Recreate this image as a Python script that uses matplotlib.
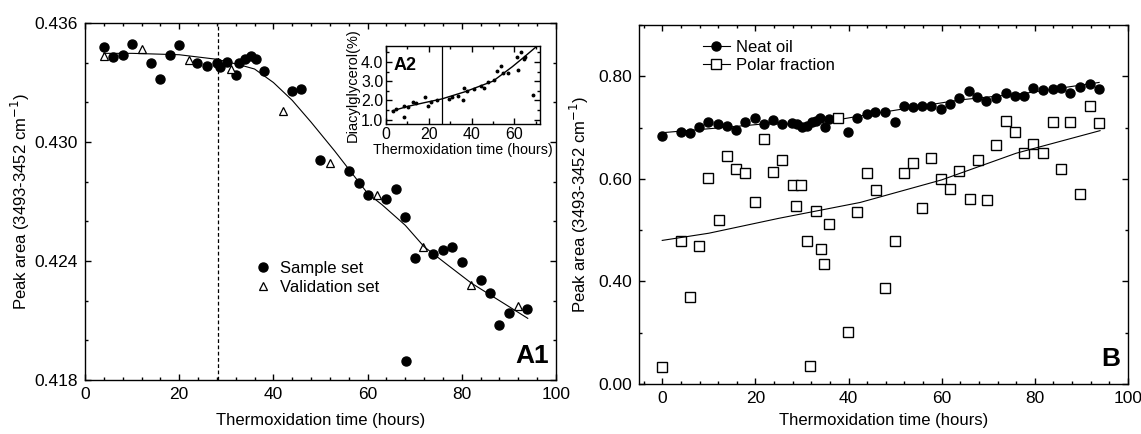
import matplotlib.pyplot as plt
from matplotlib.ticker import MultipleLocator, FixedLocator

plt.rcParams['font.family'] = ['Liberation Sans', 'DejaVu Sans']

# ---- panel A1: peak area vs time ----
sample_t = [4.0, 6.0, 8.0, 10.0, 14.1, 16.0, 18.0, 19.9, 23.8, 26.0, 28.0, 28.7, 30.1, 32.0, 32.8,
            34.0, 35.2, 36.2, 38.0, 44.0, 45.9, 49.9, 56.0, 58.1, 60.0, 63.9, 66.0, 67.9, 68.1,
            70.0, 73.9, 76.0, 77.9, 80.0, 84.1, 86.0, 88.0, 90.0, 93.8]
sample_y = [0.43478, 0.43427, 0.43437, 0.43496, 0.43397, 0.43316, 0.43437, 0.43489, 0.43397,
            0.43383, 0.43400, 0.43380, 0.43405, 0.43338, 0.43397, 0.43417, 0.43434, 0.43417,
            0.43358, 0.43259, 0.43266, 0.42909, 0.42854, 0.42792, 0.42733, 0.42711, 0.42762,
            0.42623, 0.41897, 0.42414, 0.42434, 0.42455, 0.42472, 0.42395, 0.42304, 0.42237,
            0.42079, 0.42136, 0.42158]
valid_t = [4.0, 12.0, 22.0, 30.9, 42.0, 52.0, 62.1, 71.8, 82.0, 92.0]
valid_y = [0.43434, 0.43470, 0.43413, 0.43366, 0.43158, 0.42893, 0.42733, 0.42469, 0.42279, 0.42173]
fitA_t = [4, 10, 20, 28, 33, 36, 40, 44, 48, 53, 60, 63, 68, 72, 77, 82, 88, 94]
fitA_y = [0.43447, 0.43447, 0.43440, 0.43417, 0.43388, 0.43368, 0.43300, 0.43210, 0.43100,
          0.42955, 0.42741, 0.42685, 0.42580, 0.42472, 0.42380, 0.42289, 0.42200, 0.42111]
split_A = 28.3
a_ticks = [0.418, 0.424, 0.430, 0.436]

# ---- inset A2: diacylglycerol ----
dag_t = [3.1, 4.9, 8.3, 8.3, 10.3, 12.6, 14.1, 18.0, 19.5, 21.0, 24.0, 29.5, 31.0, 33.5, 36.1,
         36.4, 38.0, 41.0, 44.5, 45.6, 47.9, 50.5, 51.8, 53.8, 54.8, 57.0, 61.0, 61.8, 63.0,
         64.5, 65.1, 68.7]
dag_v = [1.44, 1.53, 1.14, 1.70, 1.63, 1.93, 1.84, 2.16, 1.70, 1.93, 2.00, 2.05, 2.19, 2.25, 2.02,
         2.63, 2.51, 2.58, 2.75, 2.66, 2.98, 3.07, 3.54, 3.77, 3.42, 3.45, 4.26, 3.59, 4.50,
         4.16, 4.26, 2.28]
dag_fit_t = [3, 10, 18, 26, 37, 50, 59, 65, 71]
dag_fit_v = [1.45, 1.68, 1.88, 2.07, 2.45, 3.00, 3.75, 4.30, 4.87]
split_A2 = 26

# ---- panel B ----
neat_t = [0, 4.0, 6.0, 7.9, 9.8, 12.0, 13.9, 15.8, 17.8, 20.0, 21.9, 23.8, 25.7, 27.8, 28.9,
          30.0, 31.0, 32.1, 33.0, 33.9, 35.0, 35.9, 39.8, 41.9, 43.9, 45.7, 47.9, 49.9, 51.9,
          53.9, 55.8, 57.8, 59.9, 61.8, 63.7, 65.8, 67.6, 69.6, 71.7, 73.8, 75.8, 77.7, 79.6,
          81.7, 83.8, 85.7, 87.6, 89.8, 91.8, 93.8]
neat_y = [0.684, 0.692, 0.690, 0.701, 0.710, 0.707, 0.703, 0.696, 0.710, 0.718, 0.706, 0.715,
          0.706, 0.709, 0.707, 0.702, 0.703, 0.710, 0.712, 0.718, 0.701, 0.716, 0.692, 0.718,
          0.727, 0.731, 0.730, 0.710, 0.742, 0.741, 0.742, 0.742, 0.736, 0.746, 0.757, 0.772,
          0.759, 0.751, 0.757, 0.768, 0.761, 0.761, 0.777, 0.774, 0.775, 0.777, 0.768, 0.780,
          0.785, 0.775]
neat_fit_t = [0, 11.7, 21.7, 32.4, 45.3, 64, 78, 93.8]
neat_fit_y = [0.690, 0.699, 0.707, 0.707, 0.727, 0.754, 0.767, 0.788]
polar_t = [0, 4.0, 6.0, 7.9, 9.8, 12.1, 13.9, 15.8, 17.8, 20.0, 21.9, 23.8, 25.7, 28.0, 28.8,
           29.8, 31.0, 31.8, 33.0, 34.0, 34.8, 35.9, 37.8, 39.8, 41.9, 43.9, 45.8, 47.9, 49.9,
           51.9, 53.8, 55.7, 57.8, 59.9, 61.7, 63.8, 66.0, 67.9, 69.7, 71.7, 73.8, 75.8, 77.7,
           79.7, 81.7, 83.8, 85.6, 87.6, 89.7, 91.8, 93.7]
polar_y = [0.234, 0.478, 0.369, 0.469, 0.601, 0.520, 0.645, 0.619, 0.612, 0.554, 0.677, 0.614,
           0.637, 0.588, 0.547, 0.588, 0.479, 0.236, 0.538, 0.463, 0.434, 0.512, 0.718, 0.302,
           0.535, 0.612, 0.579, 0.387, 0.479, 0.612, 0.630, 0.543, 0.640, 0.599, 0.580, 0.616,
           0.561, 0.637, 0.558, 0.666, 0.712, 0.692, 0.651, 0.668, 0.651, 0.710, 0.619, 0.710,
           0.570, 0.742, 0.709]
polar_fit_t = [0, 10, 25, 42.5, 60, 76, 94]
polar_fit_y = [0.480, 0.494, 0.523, 0.554, 0.598, 0.650, 0.694]
b_ticks = [0.2, 0.4, 0.6, 0.8]
b_labels = ["0.00", "0.40", "0.60", "0.80"]

xlabel = "Thermoxidation time (hours)"
ylabel = "Peak area (3493-3452 cm$^{-1}$)"


def style(ax, size=12.5):
    for s in ax.spines.values():
        s.set_linewidth(1.0)
    ax.tick_params(direction='in', top=True, right=True, which='both', labelsize=size, width=1.0)
    ax.tick_params(which='major', length=4, pad=5)
    ax.tick_params(which='minor', length=2)


fig = plt.figure(figsize=(11.41, 4.34), dpi=100)

# A1
ax1 = fig.add_axes([0.0745, 0.1244, 0.4128, 0.8226])
ax1.plot(sample_t, sample_y, 'o', color='black', ms=6.5, label='Sample set')
ax1.plot(valid_t, valid_y, '^', mfc='white', mec='black', mew=0.9, ms=6, label='Validation set')
ax1.plot(fitA_t, fitA_y, '-', color='black', lw=0.8)
ax1.axvline(split_A, color='black', ls=(0, (3, 2)), lw=0.9)
ax1.set_xlim(0, 100)
ax1.set_ylim(0.418, 0.436)
ax1.yaxis.set_major_locator(FixedLocator(a_ticks))
ax1.yaxis.set_major_formatter('{x:.3f}')
ax1.yaxis.set_minor_locator(MultipleLocator(0.002))
ax1.xaxis.set_major_locator(MultipleLocator(20))
ax1.xaxis.set_minor_locator(MultipleLocator(4))
style(ax1)
ax1.set_xlabel(xlabel, fontsize=12)
ax1.set_ylabel(ylabel, fontsize=12)
ax1.yaxis.set_label_coords(-0.113, 0.5)
ax1.xaxis.set_label_coords(0.5, -0.092)
ax1.xaxis.label.set_va('top')
ax1.legend(loc='upper left', bbox_to_anchor=(0.325, 0.375), frameon=False, fontsize=12,
           handletextpad=0.4, labelspacing=0.25, handlelength=1.2)
ax1.text(0.985, 0.035, 'A1', transform=ax1.transAxes, ha='right', va='bottom',
         fontsize=19, fontweight='bold')

# A2 inset
ax2 = fig.add_axes([0.3383, 0.7136, 0.135, 0.1811])
ax2.plot(dag_t, dag_v, 'o', color='black', ms=1.8)
ax2.plot(dag_fit_t, dag_fit_v, '-', color='black', lw=1.0)
ax2.axvline(split_A2, color='black', lw=0.9)
ax2.set_xlim(0, 72)
ax2.set_ylim(0.75, 4.85)
ax2.xaxis.set_major_locator(MultipleLocator(20))
ax2.yaxis.set_major_locator(MultipleLocator(1.0))
ax2.yaxis.set_minor_locator(MultipleLocator(0.5))
ax2.xaxis.set_minor_locator(MultipleLocator(10))
ax2.yaxis.set_major_formatter('{x:.1f}')
style(ax2, size=11.5)
ax2.tick_params(which='major', pad=2)
ax2.set_xlabel(xlabel, fontsize=10.3, labelpad=1)
ax2.set_ylabel('Diacylglycerol(%)', fontsize=10.5, labelpad=1)
ax2.text(0.05, 0.75, 'A2', transform=ax2.transAxes, ha='left', va='center',
         fontsize=13, fontweight='bold')

# B
ax3 = fig.add_axes([0.560, 0.1152, 0.4286, 0.8272])
ax3.plot(neat_t, neat_y, 'o', color='black', ms=6.5)
ax3.plot(neat_fit_t, neat_fit_y, '-', color='black', lw=0.8)
ax3.plot(polar_t, polar_y, 's', mfc='white', mec='black', mew=1.0, ms=6.5)
ax3.plot(polar_fit_t, polar_fit_y, '-', color='black', lw=0.8)
ax3.plot([], [], 'o-', color='black', ms=6.5, lw=0.8, label='Neat oil')
ax3.plot([], [], 's-', color='black', mfc='white', ms=6.5, lw=0.8, label='Polar fraction')
ax3.set_xlim(-5, 100)
ax3.set_ylim(0.2, 0.9)
ax3.yaxis.set_major_locator(FixedLocator(b_ticks))
ax3.set_yticklabels(b_labels)
ax3.yaxis.set_minor_locator(MultipleLocator(0.1))
ax3.xaxis.set_major_locator(MultipleLocator(20))
ax3.xaxis.set_minor_locator(MultipleLocator(4))
style(ax3)
ax3.set_xlabel(xlabel, fontsize=12)
ax3.set_ylabel(ylabel, fontsize=12)
ax3.yaxis.set_label_coords(-0.098, 0.5)
ax3.xaxis.set_label_coords(0.5, -0.081)
ax3.xaxis.label.set_va('top')
ax3.legend(loc='upper left', bbox_to_anchor=(0.1, 1.0), frameon=False, fontsize=12,
           handletextpad=0.4, labelspacing=0.2, handlelength=1.6)
ax3.text(0.985, 0.035, 'B', transform=ax3.transAxes, ha='right', va='bottom',
         fontsize=19, fontweight='bold')

fig.savefig('out.png', dpi=100)
